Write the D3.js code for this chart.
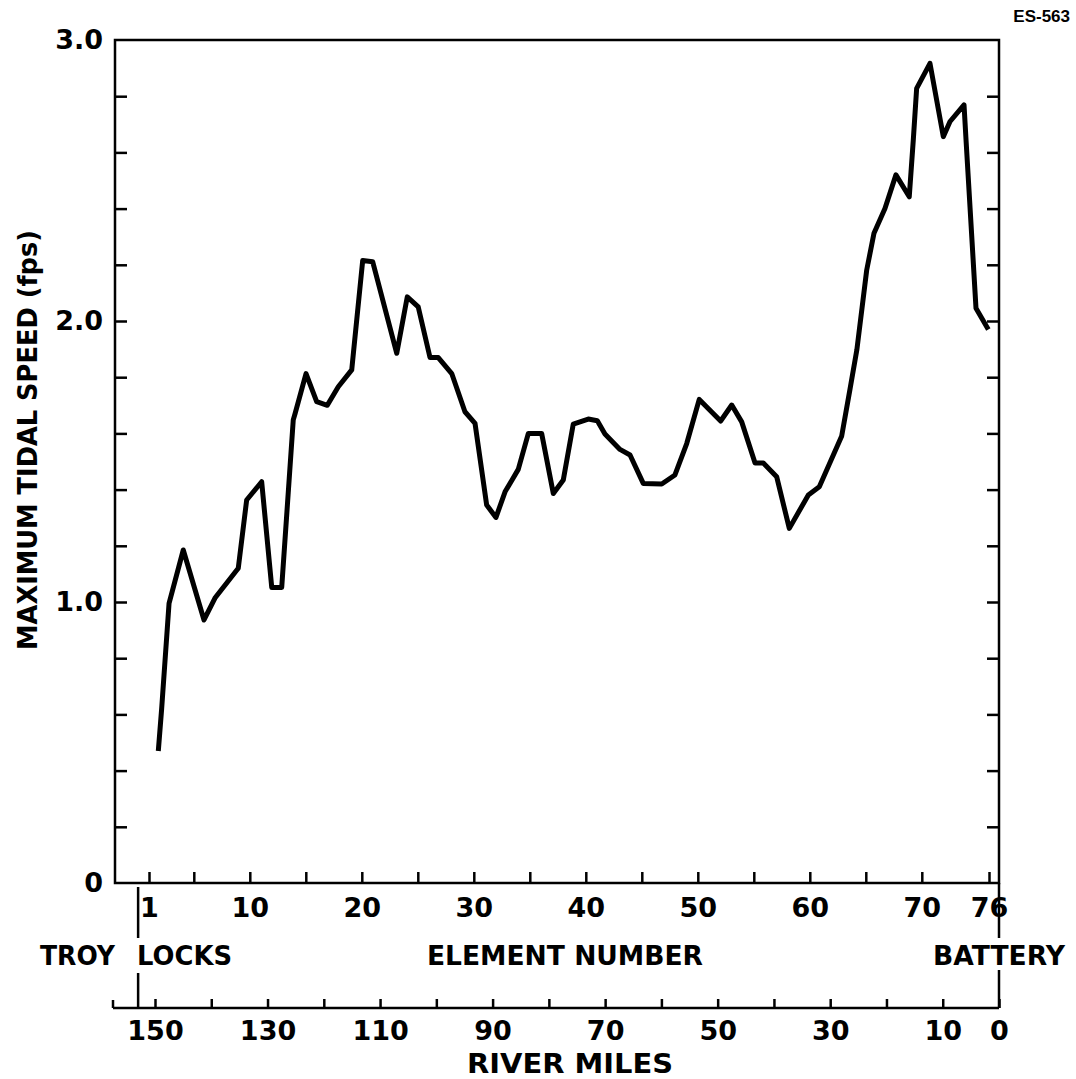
<!DOCTYPE html>
<html>
<head>
<meta charset="utf-8">
<script src="https://cdn.jsdelivr.net/npm/d3@7"></script>
<style>
  body { margin: 0; background: #fff; }
  text { font-family: "DejaVu Sans", sans-serif; font-weight: bold; fill: #000; }
</style>
</head>
<body>
<div id="chart"></div>
<script>
// element number and max tidal speed in fps
const elements = [1.83, 2.13, 2.79, 4.06, 5.91, 6.89, 8.97, 9.72, 11.06, 11.96, 12.85, 13.88, 14.04, 15.02, 15.97, 16.92, 17.9, 19.1, 19.26, 20.08, 20.97, 23.12, 24.06, 25.04, 26.09, 26.83, 28.03, 29.21, 30.11, 31.15, 31.98, 32.79, 33.97, 34.87, 36.06, 37.1, 37.99, 38.88, 40.22, 41.03, 41.71, 43.05, 43.95, 45.13, 46.78, 47.96, 49.01, 50.13, 52.04, 53.03, 53.92, 55.11, 55.85, 57.04, 58.17, 59.87, 60.85, 62.85, 63.6, 64.2, 65.08, 65.73, 66.71, 67.69, 68.88, 69.24, 69.54, 70.73, 71.92, 72.52, 73.77, 73.95, 74.84, 75.94];
const speeds = [0.47, 0.62, 0.995, 1.185, 0.936, 1.014, 1.12, 1.363, 1.428, 1.052, 1.052, 1.648, 1.67, 1.813, 1.713, 1.70, 1.766, 1.826, 1.89, 2.215, 2.211, 1.885, 2.086, 2.05, 1.87, 1.87, 1.813, 1.677, 1.636, 1.345, 1.301, 1.392, 1.472, 1.60, 1.60, 1.386, 1.434, 1.633, 1.651, 1.645, 1.598, 1.543, 1.523, 1.422, 1.42, 1.452, 1.564, 1.721, 1.644, 1.701, 1.641, 1.495, 1.495, 1.446, 1.262, 1.381, 1.41, 1.591, 1.76, 1.897, 2.181, 2.312, 2.40, 2.52, 2.442, 2.644, 2.828, 2.917, 2.656, 2.71, 2.769, 2.644, 2.045, 1.97];

const speedTicks = [0.2, 0.4, 0.6, 0.8, 1.0, 1.2, 1.4, 1.6, 1.8, 2.0, 2.2, 2.4, 2.6, 2.8];
const speedLabels = [0, 1, 2, 3];
const elementTicks = [1, 5, 10, 15, 20, 25, 30, 35, 40, 45, 50, 55, 60, 65, 70, 76];
const elementLabels = [1, 10, 20, 30, 40, 50, 60, 70, 76];
const mileTicks = [0, 10, 20, 30, 40, 50, 60, 70, 80, 90, 100, 110, 120, 130, 140, 150];
const mileLabels = [150, 130, 110, 90, 70, 50, 30, 10, 0];
const troyMile = 153;

const width = 1076, height = 1079;
const plotLeft = 115, plotRight = 999, plotTop = 40, plotBottom = 883, riverY = 1008;

const svg = d3.select("#chart").append("svg")
  .attr("width", width)
  .attr("height", height);

const x = d3.scaleLinear().domain([1, 76]).range([149, 989]);
const y = d3.scaleLinear().domain([0, 3]).range([plotBottom, plotTop]);
const miles = d3.scaleLinear().domain([0, 150]).range([999, 155]);

// frame
svg.append("rect")
  .attr("x", plotLeft).attr("y", plotTop)
  .attr("width", plotRight - plotLeft).attr("height", plotBottom - plotTop)
  .attr("fill", "none").attr("stroke", "#000").attr("stroke-width", 2.5);

// inward ticks left and right
svg.append("g")
  .attr("transform", `translate(${plotLeft},0)`)
  .call(d3.axisLeft(y).tickValues(speedTicks).tickSize(-12).tickFormat(""))
  .call(g => g.select(".domain").remove());
svg.append("g")
  .attr("transform", `translate(${plotRight},0)`)
  .call(d3.axisRight(y).tickValues(speedTicks).tickSize(-12).tickFormat(""))
  .call(g => g.select(".domain").remove());

svg.append("g")
  .attr("transform", `translate(${plotLeft},0)`)
  .call(d3.axisLeft(y).tickValues(speedLabels).tickSize(0).tickPadding(12)
    .tickFormat(d => d === 0 ? "0" : d3.format(".1f")(d)))
  .call(g => g.select(".domain").remove());

// element number axis
svg.append("g")
  .attr("transform", `translate(0,${plotBottom})`)
  .call(d3.axisBottom(x).tickValues(elementTicks).tickSize(-11).tickPadding(15)
    .tickFormat(d => elementLabels.includes(d) ? d : ""))
  .call(g => g.select(".domain").remove());

// river miles axis
svg.append("g")
  .attr("transform", `translate(0,${riverY})`)
  .call(d3.axisBottom(miles).tickValues(mileTicks).tickSize(-9).tickPadding(13)
    .tickFormat(d => mileLabels.includes(d) ? d : ""))
  .call(g => g.select(".domain").remove());

svg.append("line")
  .attr("x1", 113).attr("x2", plotRight).attr("y1", riverY).attr("y2", riverY)
  .attr("stroke", "#000").attr("stroke-width", 2.5);
svg.append("line")
  .attr("x1", 113).attr("x2", 113).attr("y1", riverY).attr("y2", riverY - 8)
  .attr("stroke", "#000").attr("stroke-width", 2.5);

svg.selectAll(".tick line").attr("stroke", "#000").attr("stroke-width", 2.5);
svg.selectAll(".tick text").style("font-size", "27px").attr("fill", "#000");

// troy locks / battery markers
[[miles(troyMile), 887, 938], [miles(troyMile), 973, riverY], [plotRight, plotBottom, 938], [plotRight, 970, riverY]]
  .forEach(m => svg.append("line")
    .attr("x1", m[0]).attr("x2", m[0]).attr("y1", m[1]).attr("y2", m[2])
    .attr("stroke", "#000").attr("stroke-width", 2.5));

// labels
const labels = [
  ["TROY", 40, 965, 75],
  ["LOCKS", 137, 965, 95],
  ["ELEMENT NUMBER", 427, 965, 276],
  ["BATTERY", 933, 965, 132],
  ["RIVER MILES", 467, 1073, 206]
];
labels.forEach(l => svg.append("text")
  .attr("x", l[1]).attr("y", l[2])
  .attr("textLength", l[3]).attr("lengthAdjust", "spacingAndGlyphs")
  .style("font-size", "27px")
  .text(l[0]));

svg.append("text")
  .attr("transform", "translate(37,440) rotate(-90)")
  .attr("text-anchor", "middle")
  .attr("textLength", 420).attr("lengthAdjust", "spacingAndGlyphs")
  .style("font-size", "27px")
  .text("MAXIMUM TIDAL SPEED (fps)");

svg.append("text")
  .attr("x", 1070).attr("y", 22)
  .attr("text-anchor", "end")
  .style("font-family", "'Liberation Sans', Arial, sans-serif")
  .style("font-size", "17px")
  .text("ES-563");

// data line
const line = d3.line()
  .x(d => x(d[0]))
  .y(d => y(d[1]));

svg.append("path")
  .datum(elements.map((e, i) => [e, speeds[i]]))
  .attr("d", line)
  .attr("fill", "none")
  .attr("stroke", "#000")
  .attr("stroke-width", 5)
  .attr("stroke-linejoin", "round");
</script>
</body>
</html>
